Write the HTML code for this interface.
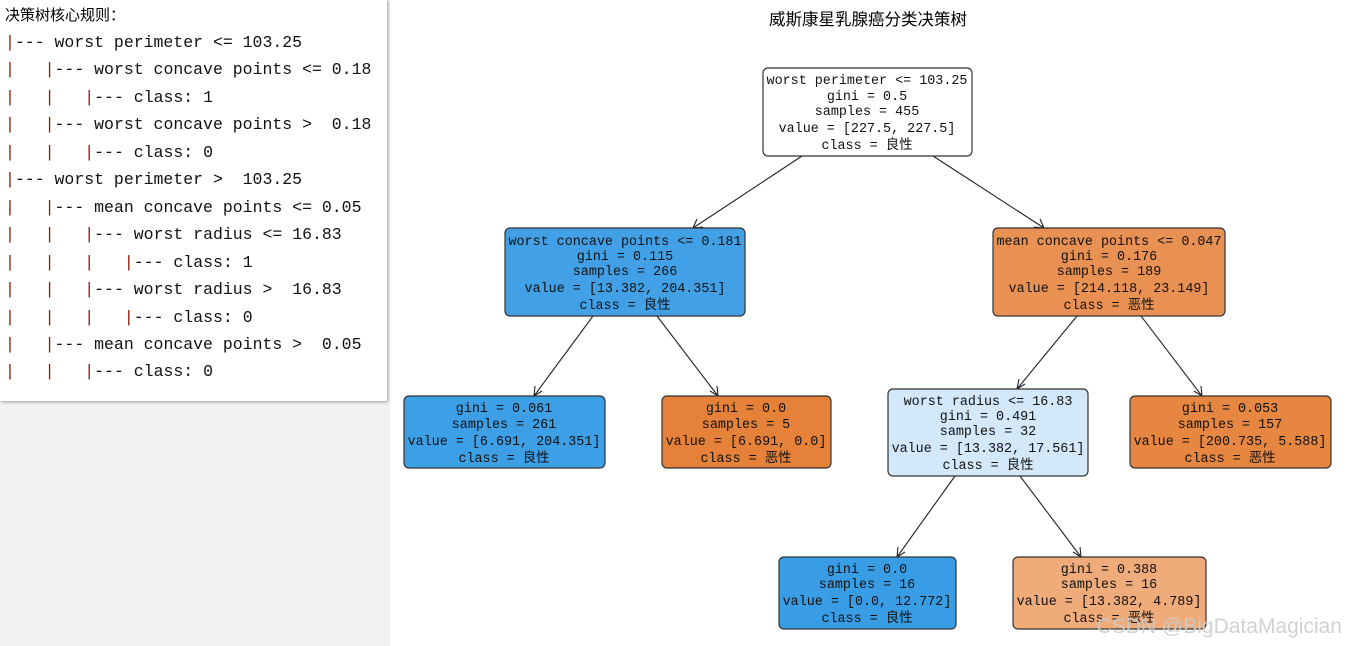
<!DOCTYPE html>
<html><head><meta charset="utf-8"><style>
html,body{margin:0;padding:0;width:1346px;height:646px;overflow:hidden;background:#fff;}
#bg{position:absolute;left:0;top:0;width:392px;height:646px;background:#f2f2f2;}
#panel{position:absolute;left:0;top:0;width:387px;height:401px;background:#fff;box-shadow:1px 1px 3px rgba(0,0,0,0.35);}
#panel .t{position:absolute;left:5px;top:4px;font:15px "Liberation Sans","Noto Sans CJK SC",sans-serif;color:#000;}
#panel pre{position:absolute;left:5px;top:29px;margin:0;font:16.5px/27.45px "Liberation Mono",monospace;color:#111;}
#panel pre b{font-weight:normal;color:#8b1a00;}
svg{position:absolute;left:0;top:0;}
</style></head><body>
<div id="bg"></div>
<div id="panel"><div class="t">决策树核心规则：</div>
<pre><b>|</b>--- worst perimeter &lt;= 103.25
<b>|</b>   <b>|</b>--- worst concave points &lt;= 0.18
<b>|</b>   <b>|</b>   <b>|</b>--- class: 1
<b>|</b>   <b>|</b>--- worst concave points &gt;  0.18
<b>|</b>   <b>|</b>   <b>|</b>--- class: 0
<b>|</b>--- worst perimeter &gt;  103.25
<b>|</b>   <b>|</b>--- mean concave points &lt;= 0.05
<b>|</b>   <b>|</b>   <b>|</b>--- worst radius &lt;= 16.83
<b>|</b>   <b>|</b>   <b>|</b>   <b>|</b>--- class: 1
<b>|</b>   <b>|</b>   <b>|</b>--- worst radius &gt;  16.83
<b>|</b>   <b>|</b>   <b>|</b>   <b>|</b>--- class: 0
<b>|</b>   <b>|</b>--- mean concave points &gt;  0.05
<b>|</b>   <b>|</b>   <b>|</b>--- class: 0</pre></div>
<svg width="1346" height="646" xmlns="http://www.w3.org/2000/svg">
<rect x="390" y="0" width="956" height="646" fill="#fff"/>
<text x="868" y="25" font-size="16.5" text-anchor="middle" font-family="Liberation Sans,Noto Sans CJK SC,sans-serif">威斯康星乳腺癌分类决策树</text>
<g stroke="#222" stroke-width="1.1" fill="none">
<line x1="802" y1="156" x2="693" y2="228"/><polyline points="697,219 693,228 703,227"/>
<line x1="933" y1="156" x2="1044" y2="228"/><polyline points="1034,227 1044,228 1040,219"/>
<line x1="593" y1="316" x2="534" y2="396"/><polyline points="535,386 534,396 542,391"/>
<line x1="657" y1="316" x2="718" y2="396"/><polyline points="710,391 718,396 717,386"/>
<line x1="1077" y1="316" x2="1017" y2="389"/><polyline points="1019,379 1017,389 1025,384"/>
<line x1="1141" y1="316" x2="1202" y2="396"/><polyline points="1194,391 1202,396 1201,386"/>
<line x1="955" y1="476" x2="897" y2="557"/><polyline points="898,547 897,557 905,552"/>
<line x1="1020" y1="476" x2="1081" y2="557"/><polyline points="1073,552 1081,557 1080,547"/>
</g>
<g stroke="#333" stroke-width="1.2">
<rect x="763" y="68" width="209" height="88" rx="5" fill="#ffffff"/>
<rect x="505" y="228" width="240" height="88" rx="5" fill="#42a1e6"/>
<rect x="993" y="228" width="232" height="88" rx="5" fill="#e99153"/>
<rect x="404" y="396" width="201" height="72" rx="5" fill="#3d9fe5"/>
<rect x="662" y="396" width="169" height="72" rx="5" fill="#e58139"/>
<rect x="888" y="389" width="200" height="87" rx="5" fill="#d3e8f9"/>
<rect x="1130" y="396" width="201" height="72" rx="5" fill="#e68641"/>
<rect x="779" y="557" width="177" height="72" rx="5" fill="#399de5"/>
<rect x="1013" y="557" width="193" height="72" rx="5" fill="#efab7a"/>
</g>
<g font-family="Liberation Mono,Noto Sans CJK SC,monospace" font-size="13.4" text-anchor="middle" fill="#111">
<text x="867" y="84">worst perimeter &lt;= 103.25</text><text x="867" y="100">gini = 0.5</text><text x="867" y="115">samples = 455</text><text x="867" y="132">value = [227.5, 227.5]</text><text x="867" y="149">class = 良性</text>
<text x="625" y="245">worst concave points &lt;= 0.181</text><text x="625" y="260">gini = 0.115</text><text x="625" y="275">samples = 266</text><text x="625" y="292">value = [13.382, 204.351]</text><text x="625" y="309">class = 良性</text>
<text x="1109" y="245">mean concave points &lt;= 0.047</text><text x="1109" y="260">gini = 0.176</text><text x="1109" y="275">samples = 189</text><text x="1109" y="292">value = [214.118, 23.149]</text><text x="1109" y="309">class = 恶性</text>
<text x="504" y="412">gini = 0.061</text><text x="504" y="428">samples = 261</text><text x="504" y="445">value = [6.691, 204.351]</text><text x="504" y="462">class = 良性</text>
<text x="746" y="412">gini = 0.0</text><text x="746" y="428">samples = 5</text><text x="746" y="445">value = [6.691, 0.0]</text><text x="746" y="462">class = 恶性</text>
<text x="988" y="405">worst radius &lt;= 16.83</text><text x="988" y="420">gini = 0.491</text><text x="988" y="435">samples = 32</text><text x="988" y="452">value = [13.382, 17.561]</text><text x="988" y="469">class = 良性</text>
<text x="1230" y="412">gini = 0.053</text><text x="1230" y="428">samples = 157</text><text x="1230" y="445">value = [200.735, 5.588]</text><text x="1230" y="462">class = 恶性</text>
<text x="867" y="573">gini = 0.0</text><text x="867" y="588">samples = 16</text><text x="867" y="605">value = [0.0, 12.772]</text><text x="867" y="622">class = 良性</text>
<text x="1109" y="573">gini = 0.388</text><text x="1109" y="588">samples = 16</text><text x="1109" y="605">value = [13.382, 4.789]</text><text x="1109" y="622">class = 恶性</text>
</g>
<text x="1342" y="633" font-family="Liberation Sans,sans-serif" font-size="21" text-anchor="end" fill="#cccccc" fill-opacity="0.9">CSDN @BigDataMagician</text>
</svg>
</body></html>
